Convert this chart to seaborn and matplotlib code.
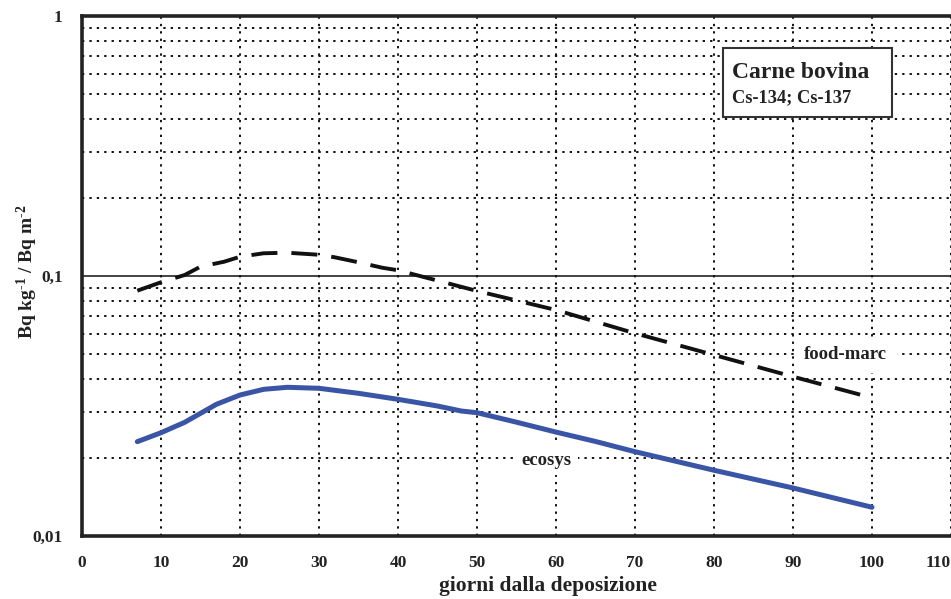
import matplotlib
matplotlib.use("Agg")
import matplotlib.pyplot as plt
import seaborn as sns
import numpy as np
import pandas as pd
from matplotlib.ticker import FixedLocator, NullFormatter
from matplotlib.patches import Rectangle

# --- data ---
food_x = [7, 10, 13, 15, 18, 20, 23, 26, 30, 32, 35, 38, 40, 50, 60, 70, 80, 90, 100]
food_y = [0.0878, 0.0946, 0.1009, 0.1086, 0.1135, 0.1186, 0.1223, 0.1229, 0.1207, 0.1180,
          0.1129, 0.1076, 0.1052, 0.0876, 0.074, 0.0602, 0.0497, 0.041, 0.034]
eco_x = [7, 10, 13, 15, 17, 20, 23, 26, 30, 35, 40, 45, 48, 50, 55, 60, 65, 70, 80, 90, 100]
eco_y = [0.02306, 0.02496, 0.02737, 0.02963, 0.03209, 0.03485, 0.03666, 0.03732, 0.03699,
         0.03538, 0.03355, 0.03162, 0.03025, 0.0298, 0.0274, 0.0251, 0.0231, 0.0211,
         0.0179, 0.0153, 0.0129]
x_ticks = [0, 10, 20, 30, 40, 50, 60, 70, 80, 90, 100, 110]
y_ticks = [0.01, 0.1, 1]
y_labels = ["0,01", "0,1", "1"]

sns.set_style("white")
plt.rcParams['font.family'] = ['Liberation Serif', 'DejaVu Serif']
plt.rcParams['mathtext.fontset'] = 'custom'
plt.rcParams['mathtext.rm'] = 'Liberation Serif:bold'
plt.rcParams['mathtext.it'] = 'Liberation Serif:bold'
plt.rcParams['mathtext.bf'] = 'Liberation Serif:bold'

TXT = "#222222"
W, H = 951, 599
fig = plt.figure(figsize=(9.51, 5.99), dpi=100)
ax = fig.add_axes([82/W, 1 - 536/H, 1 - 82/W, (536 - 16)/H])

df_food = pd.DataFrame({"x": food_x, "y": food_y})
df_eco = pd.DataFrame({"x": eco_x, "y": eco_y})

ax.set_yscale("log")
ax.set_xlim(0, 110)
ax.set_ylim(0.01, 1)

# grid
dot = (0, (1.2, 2.6))
for yv in [m * 10.0**e for e in (-2, -1) for m in range(2, 10)]:
    ax.axhline(yv, color="#111111", lw=1.4, ls=dot, zorder=1)
ax.axhline(0.1, color="#111111", lw=1.1, ls="-", zorder=1)
for xv in x_ticks[1:]:
    ax.axvline(xv, color="#111111", lw=1.4, ls=dot, zorder=1)

sns.lineplot(data=df_eco, x="x", y="y", ax=ax, color="#3A55A6", lw=3.6, zorder=3)
sns.lineplot(data=df_food, x="x", y="y", ax=ax, color="#111111", lw=2.8, zorder=3)
ax.lines[-1].set_dashes((6.7, 3.6))
ax.lines[-1].set_dash_capstyle("butt")

ax.yaxis.set_major_locator(FixedLocator(y_ticks))
ax.yaxis.set_minor_locator(FixedLocator([]))
ax.yaxis.set_minor_formatter(NullFormatter())
ax.set_yticklabels(y_labels)
ax.xaxis.set_major_locator(FixedLocator(x_ticks))
ax.set_xticklabels([str(v) for v in x_ticks])
ax.get_xticklabels()[-1].set_horizontalalignment("right")

ax.tick_params(axis="both", which="major", labelsize=12.5, length=5, width=1, direction="out", color="#333333")
ax.tick_params(axis="x", pad=9)
ax.tick_params(axis="y", pad=9)
for t in ax.get_xticklabels() + ax.get_yticklabels():
    t.set_fontweight("bold")
    t.set_color(TXT)

for s in ["left", "bottom", "top"]:
    ax.spines[s].set_linewidth(2.6)
    ax.spines[s].set_color(TXT)
ax.spines["right"].set_visible(False)
ax.set_xlabel("")
ax.set_ylabel("")

fig.text(548/W, 1 - 586/H, "giorni dalla deposizione", fontsize=15.5, fontweight="bold",
         color=TXT, ha="center", va="center")
fig.text(27/W, 1 - 272/H, r"Bq kg$^{\text{-1}}$ / Bq m$^{\text{-2}}$", fontsize=14, fontweight="bold",
         color=TXT, ha="center", va="center", rotation=90)

# curve labels (white boxes)
ax.text(91.4, 0.0497, "food-marc", fontsize=13.5, fontweight="bold", color=TXT, ha="left", va="center",
        zorder=4, bbox=dict(facecolor="white", edgecolor="none", pad=7))
ax.text(55.6, 0.0196, "ecosys", fontsize=13.5, fontweight="bold", color=TXT, ha="left", va="center",
        zorder=4, bbox=dict(facecolor="white", edgecolor="none", pad=5))

# title box
ax.add_patch(Rectangle((723, H - 117), 892 - 723, 117 - 48, transform=None, facecolor="white",
                       edgecolor="#333333", lw=1.5, zorder=4))
fig.text(732/W, 1 - 72/H, "Carne bovina", fontsize=17, fontweight="bold", color=TXT,
         ha="left", va="center", zorder=5)
fig.text(732/W, 1 - 98/H, "Cs-134; Cs-137", fontsize=13.3, fontweight="bold", color=TXT,
         ha="left", va="center", zorder=5)

fig.savefig("out.png", dpi=100)
